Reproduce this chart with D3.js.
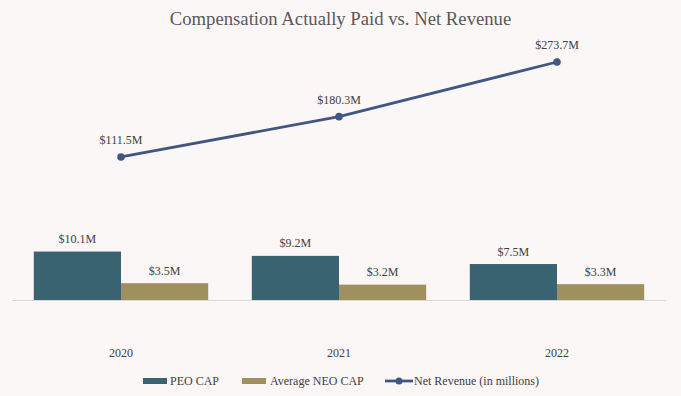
<!DOCTYPE html>
<html>
<head>
<meta charset="utf-8">
<script src="https://cdn.jsdelivr.net/npm/d3@7"></script>
<style>
  html, body { margin: 0; padding: 0; background: #fcf7f7; }
  svg { display: block; font-family: "Liberation Serif", "Times New Roman", serif; }
</style>
</head>
<body>
<script>
const width = 681;
const height = 396;

const years = ["2020", "2021", "2022"];
const peoCap = [10.1, 9.2, 7.5];
const neoCap = [3.5, 3.2, 3.3];
const netRevenue = [111.5, 180.3, 273.7];
const seriesNames = ["PEO CAP", "Average NEO CAP", "Net Revenue (in millions)"];

const peoColor = "#3a6371";
const neoColor = "#a08f5f";
const lineColor = "#415682";

const plotLeft = 12, plotRight = 666;
const plotTop = 40, baseY = 300;

const svg = d3.select("body")
    .append("svg")
    .attr("width", width)
    .attr("height", height);

// title
svg.append("text")
    .attr("x", width / 2)
    .attr("y", 25)
    .attr("text-anchor", "middle")
    .attr("font-size", 18.7)
    .attr("fill", "#595959")
    .text("Compensation Actually Paid vs. Net Revenue");

const x = d3.scaleBand()
    .domain(years)
    .range([plotLeft, plotRight])
    .paddingInner(0.2)
    .paddingOuter(0.1);

const xSub = d3.scaleBand()
    .domain(["peo", "neo"])
    .range([0, x.bandwidth()]);

// primary axis (bars) and secondary axis (line)
const y = d3.scaleLinear()
    .domain([0, 54.2])
    .range([baseY, plotTop]);

const y2 = d3.scaleLinear()
    .domain([-132.7, 311.2])
    .range([baseY, plotTop]);

// baseline
svg.append("line")
    .attr("x1", plotLeft)
    .attr("x2", plotRight)
    .attr("y1", y(0) + 0.5)
    .attr("y2", y(0) + 0.5)
    .attr("stroke", "#d9d9d9")
    .attr("stroke-width", 1);

const barData = [];
years.forEach((yr, i) => {
    barData.push({ year: yr, key: "peo", value: peoCap[i], color: peoColor });
    barData.push({ year: yr, key: "neo", value: neoCap[i], color: neoColor });
});

svg.append("g")
    .selectAll("rect")
    .data(barData)
    .join("rect")
    .attr("x", d => x(d.year) + xSub(d.key))
    .attr("y", d => y(d.value))
    .attr("width", xSub.bandwidth())
    .attr("height", d => y(0) - y(d.value))
    .attr("fill", d => d.color);

svg.append("g")
    .selectAll("text")
    .data(barData)
    .join("text")
    .attr("x", d => x(d.year) + xSub(d.key) + xSub.bandwidth() / 2)
    .attr("y", d => y(d.value) - 8.5)
    .attr("text-anchor", "middle")
    .attr("font-size", 12)
    .attr("fill", "#404040")
    .text(d => "$" + d.value.toFixed(1) + "M");

// category labels
svg.append("g")
    .selectAll("text")
    .data(years)
    .join("text")
    .attr("x", d => x(d) + x.bandwidth() / 2)
    .attr("y", 357)
    .attr("text-anchor", "middle")
    .attr("font-size", 12)
    .attr("fill", "#404040")
    .text(d => d);

// net revenue line
const linePts = years.map((yr, i) => ({ year: yr, value: netRevenue[i] }));

const line = d3.line()
    .x(d => x(d.year) + x.bandwidth() / 2)
    .y(d => y2(d.value));

svg.append("path")
    .datum(linePts)
    .attr("d", line)
    .attr("fill", "none")
    .attr("stroke", lineColor)
    .attr("stroke-width", 2.75)
    .attr("stroke-linecap", "round");

svg.append("g")
    .selectAll("circle")
    .data(linePts)
    .join("circle")
    .attr("cx", d => x(d.year) + x.bandwidth() / 2)
    .attr("cy", d => y2(d.value))
    .attr("r", 3.8)
    .attr("fill", lineColor);

svg.append("g")
    .selectAll("text")
    .data(linePts)
    .join("text")
    .attr("x", d => x(d.year) + x.bandwidth() / 2)
    .attr("y", d => y2(d.value) - 13)
    .attr("text-anchor", "middle")
    .attr("font-size", 12)
    .attr("fill", "#404040")
    .text(d => "$" + d.value.toFixed(1) + "M");

// legend
const legend = svg.append("g").attr("font-size", 12).attr("fill", "#404040");
const legY = 381;

legend.append("rect")
    .attr("x", 143).attr("y", legY - 3)
    .attr("width", 24).attr("height", 6)
    .attr("fill", peoColor);
legend.append("text")
    .attr("x", 170).attr("y", legY + 4)
    .text(seriesNames[0]);

legend.append("rect")
    .attr("x", 242).attr("y", legY - 3)
    .attr("width", 24).attr("height", 6)
    .attr("fill", neoColor);
legend.append("text")
    .attr("x", 270).attr("y", legY + 4)
    .text(seriesNames[1]);

legend.append("line")
    .attr("x1", 385).attr("x2", 413)
    .attr("y1", legY).attr("y2", legY)
    .attr("stroke", lineColor)
    .attr("stroke-width", 2.75);
legend.append("circle")
    .attr("cx", 399).attr("cy", legY)
    .attr("r", 3.5)
    .attr("fill", lineColor);
legend.append("text")
    .attr("x", 414).attr("y", legY + 4)
    .text(seriesNames[2]);
</script>
</body>
</html>
